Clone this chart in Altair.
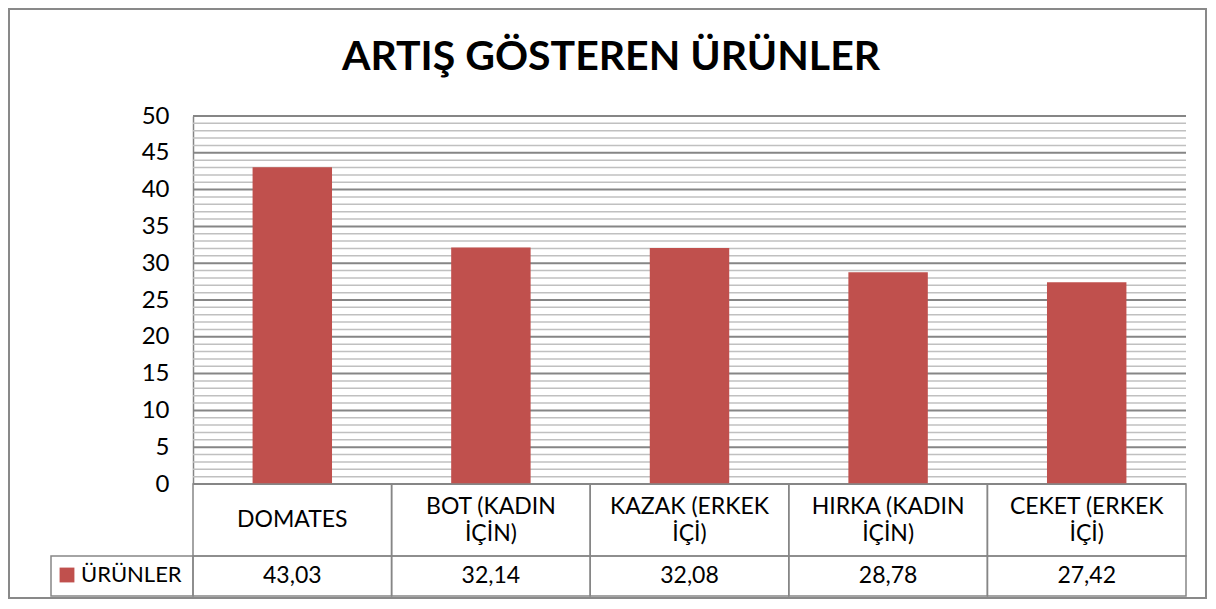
import altair as alt
import pandas as pd

# ---- data ----
title_text = "ARTIŞ GÖSTEREN ÜRÜNLER"
series_name = "ÜRÜNLER"
categories = ["DOMATES", "BOT (KADIN İÇİN)", "KAZAK (ERKEK İÇİ)", "HIRKA (KADIN İÇİN)", "CEKET (ERKEK İÇİ)"]
category_lines = ["DOMATES", "BOT (KADIN\nİÇİN)", "KAZAK (ERKEK\nİÇİ)", "HIRKA (KADIN\nİÇİN)", "CEKET (ERKEK\nİÇİ)"]
values = [43.03, 32.14, 32.08, 28.78, 27.42]
value_labels = ["43,03", "32,14", "32,08", "28,78", "27,42"]
major_ticks = [0, 5, 10, 15, 20, 25, 30, 35, 40, 45, 50]
minor_ticks = list(range(0, 51))

# ---- layout / style ----
W, H = 993, 368
ROW1 = 72     # category row height
ROW2 = 40     # value row height
LH = 27       # line height of category labels
FONT = "Lato"
BAR = "#C0504D"
GRID_MAJOR = "#868686"
GRID_MINOR = "#C0C0C0"
LINE = "#868686"

df = pd.DataFrame({
    "cat": categories,
    "label": category_lines,
    "nlines": [s.count("\n") + 1 for s in category_lines],
    "value": values,
    "vlabel": value_labels,
    "series": [series_name] * len(categories),
})
minor_df = pd.DataFrame({"v": [t for t in minor_ticks if t % 5 != 0]})
major_df = pd.DataFrame({"v": major_ticks})

xscale = alt.Scale(domain=categories, paddingInner=0, paddingOuter=0)
yscale = alt.Scale(domain=[0, 50], nice=False, zero=True)
yaxis = alt.Axis(values=major_ticks, title=None, grid=False, ticks=False,
                 domain=True, domainColor=LINE, domainWidth=1.5,
                 labelFont=FONT, labelFontSize=24, labelColor="black",
                 labelPadding=24)
X = alt.X("cat:N", sort=categories, scale=xscale, axis=None)

minor = alt.Chart(minor_df).mark_rule(color=GRID_MINOR, strokeWidth=1.5).encode(
    y=alt.Y("v:Q", scale=yscale, axis=yaxis)
)
major = alt.Chart(major_df).mark_rule(color=GRID_MAJOR, strokeWidth=2).encode(
    y=alt.Y("v:Q", scale=yscale, axis=yaxis)
)

bars = alt.Chart(df).mark_bar(width=alt.RelativeBandSize(0.4)).encode(
    x=X,
    y=alt.Y("value:Q", scale=yscale, axis=yaxis),
    color=alt.Color("series:N",
                    scale=alt.Scale(domain=[series_name], range=[BAR]),
                    legend=alt.Legend(orient="none", legendX=-137, legendY=H + ROW1 + 8,
                                      title=None, symbolType="square", symbolSize=220,
                                      symbolStrokeWidth=0, symbolOpacity=1,
                                      labelFont=FONT, labelFontSize=22, labelColor="black",
                                      labelOffset=3, padding=0)),
)

cells1 = alt.Chart(df).mark_rect(fillOpacity=0, stroke=LINE, strokeWidth=1.5).encode(
    x=X, y=alt.value(H), y2=alt.value(H + ROW1)
)
cells2 = alt.Chart(df).mark_rect(fillOpacity=0, stroke=LINE, strokeWidth=1.5).encode(
    x=X, y=alt.value(H + ROW1), y2=alt.value(H + ROW1 + ROW2)
)
legend_cell = alt.Chart(pd.DataFrame({"s": [series_name]})).mark_rect(
    fillOpacity=0, stroke=LINE, strokeWidth=1.5
).encode(x=alt.value(-142), x2=alt.value(0), y=alt.value(H + ROW1), y2=alt.value(H + ROW1 + ROW2))

cat_text1 = alt.Chart(df).transform_filter("datum.nlines == 1").mark_text(
    font=FONT, fontSize=23, color="black", baseline="middle"
).encode(x=X, y=alt.value(H + ROW1 / 2), text="label:N")
cat_text2 = alt.Chart(df).transform_filter("datum.nlines == 2").mark_text(
    font=FONT, fontSize=23, color="black", lineBreak="\n", lineHeight=LH,
    baseline="middle", dy=-LH / 2
).encode(x=X, y=alt.value(H + ROW1 / 2), text="label:N")
val_text = alt.Chart(df).mark_text(font=FONT, fontSize=23, color="black", baseline="middle").encode(
    x=X, y=alt.value(H + ROW1 + ROW2 / 2), text="vlabel:N"
)

title = alt.Chart(pd.DataFrame({"t": [title_text]})).mark_text(
    font=FONT, fontSize=41, fontWeight="bold", color="black", baseline="middle"
).encode(x=alt.value(418), y=alt.value(-58), text="t:N")

border = alt.Chart(pd.DataFrame({"b": [0]})).mark_rect(
    fillOpacity=0, stroke="#898989", strokeWidth=2
).encode(x=alt.value(-184), x2=alt.value(W + 20), y=alt.value(-107), y2=alt.value(H + ROW1 + ROW2 + 2))

chart = alt.layer(
    border, minor, major, bars, cells1, cells2, legend_cell, cat_text1, cat_text2, val_text, title
).properties(width=W, height=H, padding=0, background="white").configure_view(strokeWidth=0)

chart.save("out.html", embed_options={"renderer": "svg", "actions": False})
